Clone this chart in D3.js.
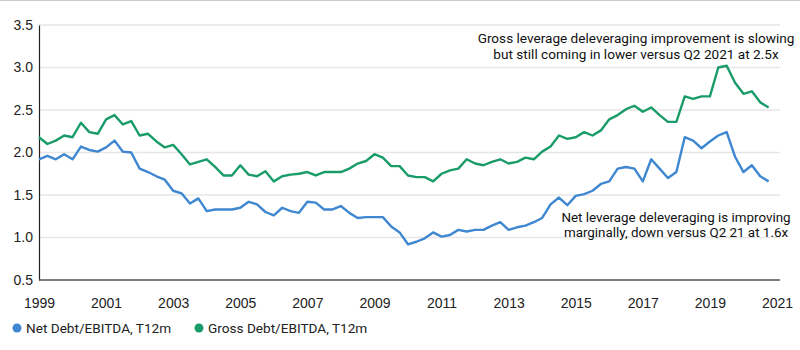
<!DOCTYPE html>
<html>
<head>
<meta charset="utf-8">
<script src="https://cdn.jsdelivr.net/npm/d3@7"></script>
<style>
  body { margin: 0; background: #fff; }
  svg { font-family: Roboto, "Noto Sans", sans-serif; }
</style>
</head>
<body>
<div id="chart"></div>
<script>
// quarterly readings, 1999 Q1 .. 2020 Q4
const netDebt = [
  1.92, 1.96, 1.92, 1.98, 1.92, 2.07, 2.03, 2.01, 2.06, 2.14, 2.01, 2.00,
  1.81, 1.77, 1.72, 1.68, 1.55, 1.52, 1.40, 1.46, 1.31, 1.33, 1.33, 1.33,
  1.35, 1.42, 1.39, 1.30, 1.26, 1.35, 1.31, 1.29, 1.42, 1.41, 1.33, 1.33,
  1.37, 1.29, 1.23, 1.24, 1.24, 1.24, 1.13, 1.06, 0.92, 0.95, 0.99, 1.06,
  1.01, 1.03, 1.09, 1.07, 1.09, 1.09, 1.14, 1.18, 1.09, 1.12, 1.14, 1.18,
  1.23, 1.39, 1.47, 1.38, 1.49, 1.51, 1.55, 1.63, 1.66, 1.81, 1.83, 1.81,
  1.66, 1.92, 1.81, 1.70, 1.77, 2.18, 2.14, 2.05, 2.13, 2.20, 2.24, 1.95,
  1.77, 1.85, 1.72, 1.66
];
const grossDebt = [
  2.18, 2.10, 2.14, 2.20, 2.18, 2.35, 2.24, 2.22, 2.39, 2.44, 2.33, 2.37,
  2.20, 2.22, 2.13, 2.06, 2.09, 1.98, 1.86, 1.89, 1.92, 1.83, 1.73, 1.73,
  1.85, 1.74, 1.72, 1.78, 1.66, 1.72, 1.74, 1.75, 1.77, 1.73, 1.77, 1.77,
  1.77, 1.81, 1.87, 1.90, 1.98, 1.94, 1.84, 1.84, 1.73, 1.71, 1.71, 1.66,
  1.75, 1.79, 1.81, 1.92, 1.87, 1.85, 1.89, 1.92, 1.87, 1.89, 1.94, 1.92,
  2.01, 2.07, 2.20, 2.16, 2.18, 2.24, 2.20, 2.26, 2.39, 2.44, 2.51, 2.55,
  2.48, 2.53, 2.44, 2.36, 2.36, 2.66, 2.63, 2.66, 2.66, 3.00, 3.02, 2.82,
  2.69, 2.72, 2.59, 2.53
];
const quarters = d3.range(netDebt.length).map(i => 1999 + i / 4);
const yearTicks = [1999, 2001, 2003, 2005, 2007, 2009, 2011, 2013, 2015, 2017, 2019, 2021];
const valueTicks = [0.5, 1.0, 1.5, 2.0, 2.5, 3.0, 3.5];

const seriesNames = ["Net Debt/EBITDA, T12m", "Gross Debt/EBITDA, T12m"];
const colors = ["#3f87d0", "#1a9c6a"];

const grossNote = ["Gross leverage deleveraging improvement is slowing",
                   "but still coming in lower versus Q2 2021 at 2.5x"];
const netNote = ["Net leverage deleveraging is improving",
                 "marginally, down versus Q2 21 at 1.6x"];

const W = 800, H = 350;
const margin = {top: 25, right: 20, bottom: 70, left: 39},
    width = W - margin.left - margin.right,
    height = H - margin.top - margin.bottom;

const root = d3.select("#chart").append("svg")
    .attr("width", W)
    .attr("height", H);

// thin rule on top
root.append("line")
    .attr("x1", 0).attr("x2", W)
    .attr("y1", 0.5).attr("y2", 0.5)
    .attr("stroke", "#c8c8c8")
    .attr("stroke-width", 1);

const svg = root.append("g")
    .attr("transform", `translate(${margin.left}, ${margin.top})`);

const x = d3.scaleLinear()
    .domain([1999, 2021])
    .range([0, 738]);

const y = d3.scaleLinear()
    .domain([0.5, 3.5])
    .range([height, 0]);

// gridlines
svg.append("g")
    .selectAll("line")
    .data(valueTicks.slice(1))
    .enter()
    .append("line")
    .attr("x1", 0).attr("x2", width)
    .attr("y1", d => y(d)).attr("y2", d => y(d))
    .attr("stroke", "#e6e6e6")
    .attr("stroke-width", 1.5);

// Y axis
const yAxis = svg.append("g")
    .call(d3.axisLeft(y).tickValues(valueTicks).tickFormat(d3.format(".1f")).tickSize(0).tickPadding(6));
yAxis.select(".domain").attr("stroke", "#222").attr("stroke-width", 1.2);
yAxis.selectAll("text").attr("font-size", 14).attr("fill", "#222");

// X axis
const xAxis = svg.append("g")
    .attr("transform", `translate(0, ${height})`)
    .call(d3.axisBottom(x).tickValues(yearTicks).tickFormat(d3.format("d")).tickSize(0).tickPadding(18));
xAxis.select(".domain").attr("d", `M0,0H${width}`).attr("stroke", "#555").attr("stroke-width", 1.5);
xAxis.selectAll("text").attr("font-size", 14).attr("fill", "#222");

// lines
const line = d3.line()
    .x((d, i) => x(quarters[i]))
    .y(d => y(d));

[netDebt, grossDebt].forEach((s, k) => {
    svg.append("path")
        .datum(s)
        .attr("fill", "none")
        .attr("stroke", colors[k])
        .attr("stroke-width", 2.4)
        .attr("stroke-linejoin", "round")
        .attr("d", line);
});

// annotations
root.append("text")
    .attr("text-anchor", "middle")
    .attr("font-size", 13.6)
    .attr("fill", "#111")
    .selectAll("tspan")
    .data(grossNote)
    .enter()
    .append("tspan")
    .attr("x", 636)
    .attr("y", (d, i) => 43 + i * 16)
    .text(d => d);

root.append("text")
    .attr("text-anchor", "middle")
    .attr("font-size", 13.4)
    .attr("fill", "#111")
    .selectAll("tspan")
    .data(netNote)
    .enter()
    .append("tspan")
    .attr("x", 676)
    .attr("y", (d, i) => 222 + i * 15)
    .text(d => d);

// legend
const legend = root.append("g")
    .attr("transform", "translate(17, 328)");
const offsets = [0, 182];
seriesNames.forEach((name, k) => {
    const g = legend.append("g").attr("transform", `translate(${offsets[k]}, 0)`);
    g.append("circle").attr("r", 4.5).attr("fill", colors[k]);
    g.append("text")
        .attr("x", 9)
        .attr("dy", "0.35em")
        .attr("font-size", 13.6)
        .attr("fill", "#222")
        .text(name);
});
</script>
</body>
</html>
